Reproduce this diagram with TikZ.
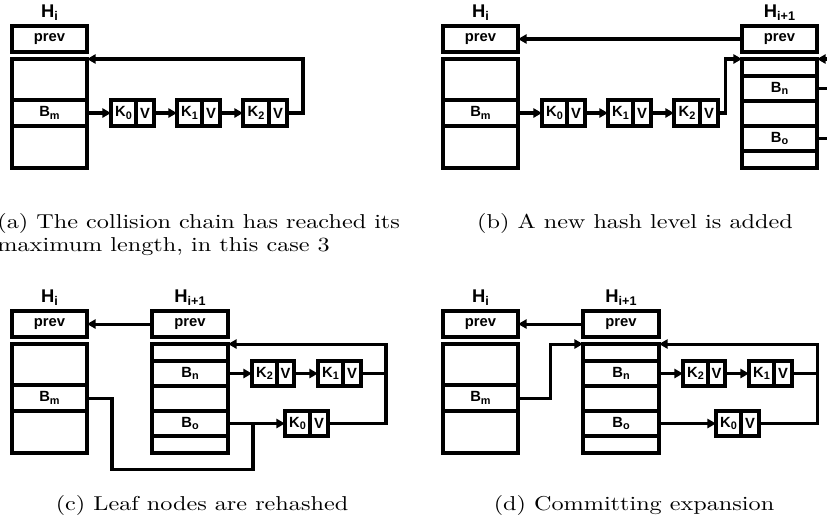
\documentclass[tikz,border=0pt]{standalone}
\usepackage{fontspec}
\usepackage{graphicx}
\newfontfamily\lsans{Liberation Sans}
\usetikzlibrary{arrows.meta}
\newdimen\pxu \pxu=0.4132pt
\newcommand\sbs[1]{\raisebox{-0.3ex}{\fontsize{4.5}{5}\selectfont #1}}
\newcommand\hsbs[1]{\raisebox{-0.3ex}{\fontsize{5.2}{6}\selectfont #1}}
\newcommand\sqz[1]{\scalebox{1}[0.83]{#1}}
\newcommand\mkcell[6]{\node[cell, minimum width={(#4-#2)*\pxu}, minimum height={(#5-#3)*\pxu}] (#1) at ({(#2+#4)/2},{(#3+#5)/2}) {#6};}
\tikzset{
  cell/.style={draw, line width=1.3pt, inner sep=0pt, outer sep=0pt, font=\lsans\bfseries\fontsize{6.1}{7}\selectfont},
  hlab/.style={inner sep=0pt, anchor=base, font=\lsans\bfseries\fontsize{7.6}{8}\selectfont},
  conn/.style={line width=1.25pt},
  arr/.style={conn, -{Triangle[length=3.6pt,width=3.8pt]}},
  captext/.style={inner sep=0pt, font=\fontsize{10}{12}\selectfont}
}
\begin{document}
\begin{tikzpicture}[x=0.4132pt, y=-0.4132pt]
\clip (0,0) rectangle (827,525);
% ---------- (a)
\node[hlab] (aH) at (49.5,17.5) {H\hsbs{i}};
\mkcell{aprev}{12}{26}{87}{52}{prev}
\mkcell{atop}{12}{59}{87}{100}{}
\mkcell{aBm}{12}{100}{87}{126}{B\sbs{m}}
\mkcell{abot}{12}{126}{87}{168}{}
\mkcell{aK0}{111}{100}{136}{126}{K\sbs{0}}
\mkcell{aV0}{136}{100}{154}{126}{V}
\mkcell{aK1}{177}{100}{202}{126}{K\sbs{1}}
\mkcell{aV1}{202}{100}{220}{126}{V}
\mkcell{aK2}{243}{100}{269}{126}{K\sbs{2}}
\mkcell{aV2}{269}{100}{287}{126}{V}
\coordinate (aturn) at (303,59);
\draw[arr] (aBm.east) -- (aK0.west);
\draw[arr] (aV0.east) -- (aK1.west);
\draw[arr] (aV1.east) -- (aK2.west);
\draw[arr] (aV2.east) -| (aturn) -- (atop.north east);
% ---------- (b)
\node[hlab] (bH) at (480.5,17.5) {H\hsbs{i}};
\mkcell{bprev}{443}{26}{518}{52}{prev}
\mkcell{btop}{443}{59}{518}{100}{}
\mkcell{bBm}{443}{100}{518}{126}{B\sbs{m}}
\mkcell{bbot}{443}{126}{518}{168}{}
\mkcell{bK0}{542}{100}{567}{126}{K\sbs{0}}
\mkcell{bV0}{567}{100}{585}{126}{V}
\mkcell{bK1}{608}{100}{633}{126}{K\sbs{1}}
\mkcell{bV1}{633}{100}{651}{126}{V}
\mkcell{bK2}{674}{100}{700}{126}{K\sbs{2}}
\mkcell{bV2}{700}{100}{718}{126}{V}
\node[hlab] (bHn) at (779.5,17.5) {H\hsbs{i+1}};
\mkcell{bprevn}{742}{26}{817}{52}{prev}
\mkcell{bn1}{742}{59}{817}{76}{}
\mkcell{bBn}{742}{76}{817}{101}{B\sbs{n}}
\mkcell{bn3}{742}{101}{817}{126}{}
\mkcell{bBo}{742}{126}{817}{151}{B\sbs{o}}
\mkcell{bn5}{742}{151}{817}{168}{}
\coordinate (bturn) at (725,59);
\coordinate (bin) at (845,59);
\coordinate (bout1) at (845,88.5);
\coordinate (bout2) at (845,138.5);
\draw[arr] (bBm.east) -- (bK0.west);
\draw[arr] (bV0.east) -- (bK1.west);
\draw[arr] (bV1.east) -- (bK2.west);
\draw[arr] (bV2.east) -| (bturn) -- (bn1.north west);
\draw[arr] (bprevn.west) -- (bprev.east);
\draw[arr] (bin) -- (bn1.north east);
\draw[conn] (bBn.east) -- (bout1);
\draw[conn] (bBo.east) -- (bout2);
% ---------- (c)
\node[hlab] (cH) at (49.5,302.5) {H\hsbs{i}};
\mkcell{cprev}{12}{311}{87}{337}{prev}
\mkcell{ctop}{12}{344}{87}{385}{}
\mkcell{cBm}{12}{385}{87}{411}{B\sbs{m}}
\mkcell{cbot}{12}{411}{87}{453}{}
\node[hlab] (cHn) at (190,302.5) {H\hsbs{i+1}};
\mkcell{cprevn}{152}{311}{228}{337}{prev}
\mkcell{cn1}{152}{344}{228}{361}{}
\mkcell{cBn}{152}{361}{228}{386}{B\sbs{n}}
\mkcell{cn3}{152}{386}{228}{411}{}
\mkcell{cBo}{152}{411}{228}{436}{B\sbs{o}}
\mkcell{cn5}{152}{436}{228}{453}{}
\mkcell{cK2}{252}{361}{277}{386}{K\sbs{2}}
\mkcell{cV2}{277}{361}{294}{386}{V}
\mkcell{cK1}{318}{361}{343}{386}{K\sbs{1}}
\mkcell{cV1}{343}{361}{361}{386}{V}
\mkcell{cK0}{285}{411}{310}{436}{K\sbs{0}}
\mkcell{cV0}{310}{411}{328}{436}{V}
\coordinate (cturn) at (386,344);
\coordinate (cm1) at (112,469);
\coordinate (cm2) at (253,469);
\draw[arr] (cprevn.west) -- (cprev.east);
\draw[arr] (cBn.east) -- (cK2.west);
\draw[arr] (cV2.east) -- (cK1.west);
\draw[conn] (cV1.east) -- (cV1.east -| cturn);
\draw[arr] (cV0.east) -| (cturn) -- (cn1.north east);
\draw[arr] (cBo.east) -- (cK0.west);
\draw[conn] (cBm.east) -| (cm1) -- (cm2) -- (cm2 |- cBo.east);
% ---------- (d)
\node[hlab] (dH) at (480.5,302.5) {H\hsbs{i}};
\mkcell{dprev}{443}{311}{518}{337}{prev}
\mkcell{dtop}{443}{344}{518}{385}{}
\mkcell{dBm}{443}{385}{518}{411}{B\sbs{m}}
\mkcell{dbot}{443}{411}{518}{453}{}
\node[hlab] (dHn) at (621,302.5) {H\hsbs{i+1}};
\mkcell{dprevn}{583}{311}{659}{337}{prev}
\mkcell{dn1}{583}{344}{659}{361}{}
\mkcell{dBn}{583}{361}{659}{386}{B\sbs{n}}
\mkcell{dn3}{583}{386}{659}{411}{}
\mkcell{dBo}{583}{411}{659}{436}{B\sbs{o}}
\mkcell{dn5}{583}{436}{659}{453}{}
\mkcell{dK2}{683}{361}{708}{386}{K\sbs{2}}
\mkcell{dV2}{708}{361}{725}{386}{V}
\mkcell{dK1}{749}{361}{774}{386}{K\sbs{1}}
\mkcell{dV1}{774}{361}{792}{386}{V}
\mkcell{dK0}{716}{411}{741}{436}{K\sbs{0}}
\mkcell{dV0}{741}{411}{759}{436}{V}
\coordinate (dturn) at (817,344);
\coordinate (dm1) at (550,344);
\draw[arr] (dprevn.west) -- (dprev.east);
\draw[arr] (dBn.east) -- (dK2.west);
\draw[arr] (dV2.east) -- (dK1.west);
\draw[conn] (dV1.east) -- (dV1.east -| dturn);
\draw[arr] (dV0.east) -| (dturn) -- (dn1.north east);
\draw[arr] (dBo.east) -- (dK0.west);
\draw[arr] (dBm.east) -| (dm1) -- (dn1.north west);
% ---------- captions
\node[captext, anchor=base west] (capA1) at (-3,228) {\sqz{(a) The collision chain has reached its}};
\node[captext, anchor=base west] (capA2) at (-3,251) {\sqz{maximum length, in this case 3}};
\node[captext, anchor=base] (capB) at (635,228) {\sqz{(b) A new hash level is added}};
\node[captext, anchor=base] (capC) at (202,510) {\sqz{(c) Leaf nodes are rehashed}};
\node[captext, anchor=base] (capD) at (634,510) {\sqz{(d) Committing expansion}};
\end{tikzpicture}
\end{document}
